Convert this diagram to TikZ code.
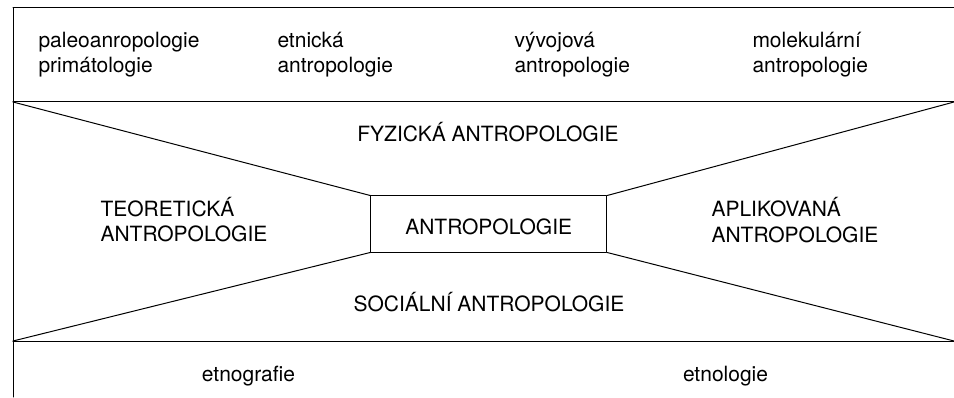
\documentclass[tikz,border=0pt]{standalone}
\usepackage{fontspec}
\setmainfont{TeX Gyre Heros}
\begin{document}
\begin{tikzpicture}[line join=round,line cap=round,x=1pt,y=1pt,line width=1pt]
			\tikzset{label style/.style={font=\fontsize{21}{25.5}\selectfont,inner sep=0pt}}
			\tikzset{band style/.style={label style,anchor=base west,align=left}}
			\useasboundingbox (0,0) rectangle (954,397);
			% outer corners of the bands
			\coordinate (topL) at (13,389);
			\coordinate (topR) at (954,389);
			\coordinate (fyzL) at (13,295);
			\coordinate (fyzR) at (954,295);
			\coordinate (socL) at (13,56);
			\coordinate (socR) at (954,56);
			\coordinate (botL) at (13,0);
			\node[draw,label style,minimum width=236,minimum height=56,text height=22pt,text depth=0pt] (core) at (488.7,173){ANTROPOLOGIE};
			\draw (topL)--(topR);
			\draw (topL)--(botL);
			\draw (fyzL)--(fyzR);
			\draw (socL)--(socR);
			\draw (fyzL)--(core.north west);
			\draw (fyzR)--(core.north east);
			\draw (socL)--(core.south west);
			\draw (socR)--(core.south east);
			% top band
			\node[band style] (paleo) at (38,324){paleoanropologie\\primátologie};
			\node[band style] (etn) at (277,324){etnická\\antropologie};
			\node[band style] (vyv) at (514,324){vývojová\\antropologie};
			\node[band style] (mol) at (752,324){molekulární\\antropologie};
			% middle
			\node[label style,anchor=base] (fyz) at (488,255){FYZICKÁ ANTROPOLOGIE};
			\node[band style] (teo) at (100,155.5){TEORETICKÁ\\ANTROPOLOGIE};
			\node[band style] (apl) at (711,155){APLIKOVANÁ\\ANTROPOLOGIE};
			\node[label style,anchor=base] (soc) at (489,86){SOCIÁLNÍ ANTROPOLOGIE};
			% bottom band
			\node[label style,anchor=base] (etg) at (248.5,16){etnografie};
			\node[label style,anchor=base] (etl) at (725.5,16){etnologie};
		\end{tikzpicture}
\end{document}
